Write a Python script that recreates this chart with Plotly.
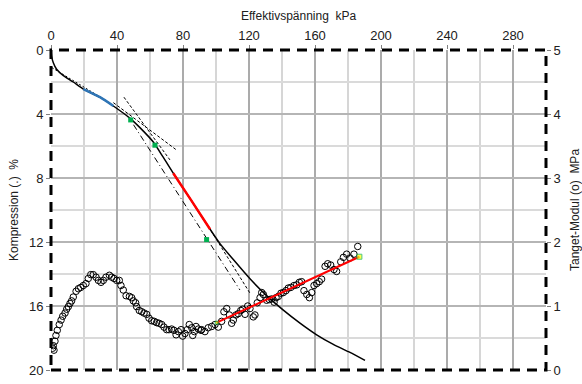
import plotly.graph_objects as go

# Compression curve (stress in kPa, compression in %)
stress_kpa = [0, 0.4, 1.4, 3.4, 7.5, 13.5, 19.6, 29.7, 37.8, 47.9, 53.9, 62, 68, 74.1,
              85, 96.4, 102.4, 110.5, 120.6, 130.7, 140.8, 150.9, 161, 171.1, 181.2, 190.3]
compression_pct = [0, 0.4, 0.8, 1.2, 1.6, 2.0, 2.44, 2.95, 3.5, 4.27, 4.85, 5.75, 6.7, 7.7,
                   9.4, 11.2, 12.1, 13.1, 14.3, 15.35, 16.26, 17.07, 17.8, 18.4, 18.9, 19.4]

# Highlighted sections of the compression curve
blue_kpa = [19.6, 29.7, 37.8]
blue_pct = [2.44, 2.95, 3.5]
red_kpa = [74.1, 85, 96.4]
red_pct = [7.7, 9.4, 11.2]

# Marked points on the curve
green_kpa = [48.3, 63.0, 94.3]
green_pct = [4.37, 5.95, 11.85]

# Construction lines (start, end)
dotted_kpa, dotted_pct = [0.5, 30.0], [1.1, 2.95]
dashA_kpa, dashA_pct = [37.8, 76.2], [3.29, 6.26]
dashB_kpa, dashB_pct = [44.2, 72.1], [2.95, 6.87]
dashdot_kpa, dashdot_pct = [50.0, 114.5], [4.67, 15.0]
dashC_kpa, dashC_pct = [97.0, 120.6], [11.3, 15.2]

# Tangent modulus (stress in kPa, modulus in MPa)
modulus_kpa = [1.0, 1.8, 1.4, 2.4, 3.0, 3.8, 5.0, 6.1, 7.1, 8.5,
               9.5, 10.5, 11.5, 12.5, 13.5, 15.2, 16.6, 18.0, 19.6, 21.2,
               22.6, 24.1, 25.6, 27.3, 28.7, 30.3, 31.7, 33.3, 35.4, 36.8,
               38.2, 39.8, 41.4, 42.4, 43.8, 45.5, 47.5, 48.9, 49.9, 51.3,
               51.9, 53.5, 55.0, 56.4, 58.0, 59.4, 61.0, 62.6, 64.0, 65.5,
               67.1, 68.5, 70.1, 71.5, 73.1, 74.5, 75.8, 77.2, 78.8, 79.8,
               81.2, 82.6, 83.8, 85.3, 85.9, 86.9, 87.9, 89.3, 90.9,
               91.3, 93.3, 95.3, 97.4, 99.4, 101.4, 103.4, 104.8, 106.5, 108.1,
               109.5, 110.5, 112.1, 113.5, 115.0, 116.2, 117.6, 119.2, 120.6, 122.6,
               123.6, 125.0, 126.7, 127.7, 128.7, 130.7, 132.3, 133.7, 135.2, 136.4,
               137.8, 139.4, 140.8, 142.4, 143.8, 145.3, 147.3, 148.9, 150.5, 151.9,
               153.3, 155.0, 156.6, 158.0, 159.4, 161.0, 162.6, 164.0, 166.1, 167.7,
               169.5, 171.5, 173.1, 175.6, 177.2, 179.2, 181.2, 183.6, 185.9]
modulus_mpa = [0.34, 0.31, 0.38, 0.45, 0.54, 0.62, 0.71, 0.78, 0.84, 0.89,
               0.95, 0.99, 1.04, 1.08, 1.14, 1.23, 1.27, 1.29, 1.32, 1.35,
               1.43, 1.49, 1.49, 1.45, 1.40, 1.37, 1.40, 1.45, 1.48, 1.45,
               1.43, 1.40, 1.40, 1.32, 1.25, 1.16, 1.15, 1.13, 1.08, 1.05,
               0.99, 0.93, 0.91, 0.89, 0.87, 0.81, 0.77, 0.76, 0.74, 0.73,
               0.71, 0.67, 0.63, 0.63, 0.64, 0.62, 0.55, 0.60, 0.63, 0.53,
               0.57, 0.63, 0.71, 0.66, 0.54, 0.60, 0.68, 0.64, 0.62,
               0.63, 0.60, 0.66, 0.68, 0.71, 0.67, 0.76, 0.91, 0.96, 0.86,
               0.73, 0.78, 0.86, 0.88, 0.93, 0.95, 0.87, 1.00, 0.96, 0.83,
               0.86, 1.05, 1.13, 1.21, 1.18, 1.09, 1.10, 1.11, 1.06, 1.13,
               1.15, 1.20, 1.21, 1.24, 1.28, 1.29, 1.32, 1.33, 1.37, 1.38,
               1.24, 1.18, 1.13, 1.21, 1.32, 1.35, 1.38, 1.42, 1.62, 1.66,
               1.64, 1.57, 1.54, 1.69, 1.76, 1.81, 1.75, 1.81, 1.93]

# Linear fit of the modulus
fit_kpa = [100.4, 186.9]
fit_mpa = [0.74, 1.77]

x_ticks = [0, 40, 80, 120, 160, 200, 240, 280]
y_ticks = [0, 4, 8, 12, 16, 20]
y2_ticks = [0, 1, 2, 3, 4, 5]

FONT = "Liberation Sans, Arial, sans-serif"

fig = go.Figure()

def guide(xs, ys, dash):
    fig.add_trace(go.Scatter(x=xs, y=ys, mode="lines",
                             line=dict(color="black", width=1, dash=dash),
                             hoverinfo="skip"))

guide(dotted_kpa, dotted_pct, "2px,2px")
guide(dashA_kpa, dashA_pct, "3px,2px")
guide(dashB_kpa, dashB_pct, "3px,2px")
guide(dashdot_kpa, dashdot_pct, "6px,3px,1px,3px")
guide(dashC_kpa, dashC_pct, "3px,2px")

fig.add_trace(go.Scatter(x=stress_kpa, y=compression_pct, mode="lines",
                         line=dict(color="black", width=1.5, shape="spline", smoothing=0.6)))
fig.add_trace(go.Scatter(x=blue_kpa, y=blue_pct, mode="lines",
                         line=dict(color="#2e75b6", width=2.5, shape="spline", smoothing=0.6)))
fig.add_trace(go.Scatter(x=red_kpa, y=red_pct, mode="lines",
                         line=dict(color="#ff0000", width=2.5, shape="spline", smoothing=0.6)))
fig.add_trace(go.Scatter(x=green_kpa, y=green_pct, mode="markers",
                         marker=dict(symbol="square", size=5, color="#00b050")))

fig.add_trace(go.Scatter(x=modulus_kpa, y=modulus_mpa, mode="markers", yaxis="y2",
                         marker=dict(symbol="circle-open", size=6.5, color="black",
                                     line=dict(width=1))))
fig.add_trace(go.Scatter(x=fit_kpa, y=fit_mpa, mode="lines", yaxis="y2",
                         line=dict(color="#ff0000", width=2)))
fig.add_trace(go.Scatter(x=fit_kpa, y=fit_mpa, mode="markers", yaxis="y2",
                         marker=dict(symbol="square", size=[3, 5], color="#ffff00",
                                     line=dict(width=1, color="#00b050"))))

axis_common = dict(ticks="outside", ticklen=4, tickcolor="#808080", showline=False,
                   zeroline=False, ticklabeloverflow="allow",
                   tickfont=dict(family=FONT, size=13, color="#202020"))

fig.update_layout(
    width=582, height=384,
    margin=dict(l=51, r=36, t=50, b=6),
    paper_bgcolor="white", plot_bgcolor="white",
    showlegend=False,
    font=dict(family=FONT, size=12, color="#202020"),
    xaxis=dict(range=[0, 300], side="top", tickvals=x_ticks,
               gridcolor="#ababab", gridwidth=1.5,
               minor=dict(dtick=20, tick0=0, gridcolor="#d6d6d6", gridwidth=1.5, ticks=""),
               **axis_common),
    yaxis=dict(range=[20, 0], tickvals=y_ticks,
               gridcolor="#b5b5b5", gridwidth=1.5,
               minor=dict(dtick=2, tick0=0, gridcolor="#dadada", gridwidth=1.5, ticks=""),
               **axis_common),
    yaxis2=dict(range=[0, 5], tickvals=y2_ticks, overlaying="y", side="right",
                showgrid=False, **axis_common),
    shapes=[dict(type="rect", xref="paper", yref="paper", x0=0, x1=1, y0=0, y1=1,
                 line=dict(color="black", width=3, dash="10px,7px"), layer="above")],
    annotations=[
        dict(text="Effektivspänning  kPa", xref="paper", yref="paper", x=0.5, y=1,
             yshift=34, showarrow=False, xanchor="center", yanchor="middle",
             font=dict(family=FONT, size=12)),
        dict(text="Kompression (.)  %", xref="paper", yref="paper", x=0, y=0.5,
             xshift=-37, showarrow=False, textangle=-90, xanchor="center",
             yanchor="middle", font=dict(family=FONT, size=12)),
        dict(text="Tanget-Modul (o)  MPa", xref="paper", yref="paper", x=1, y=0.5,
             xshift=29, showarrow=False, textangle=-90, xanchor="center",
             yanchor="middle", font=dict(family=FONT, size=12)),
    ],
)

fig.write_html("out.html")
